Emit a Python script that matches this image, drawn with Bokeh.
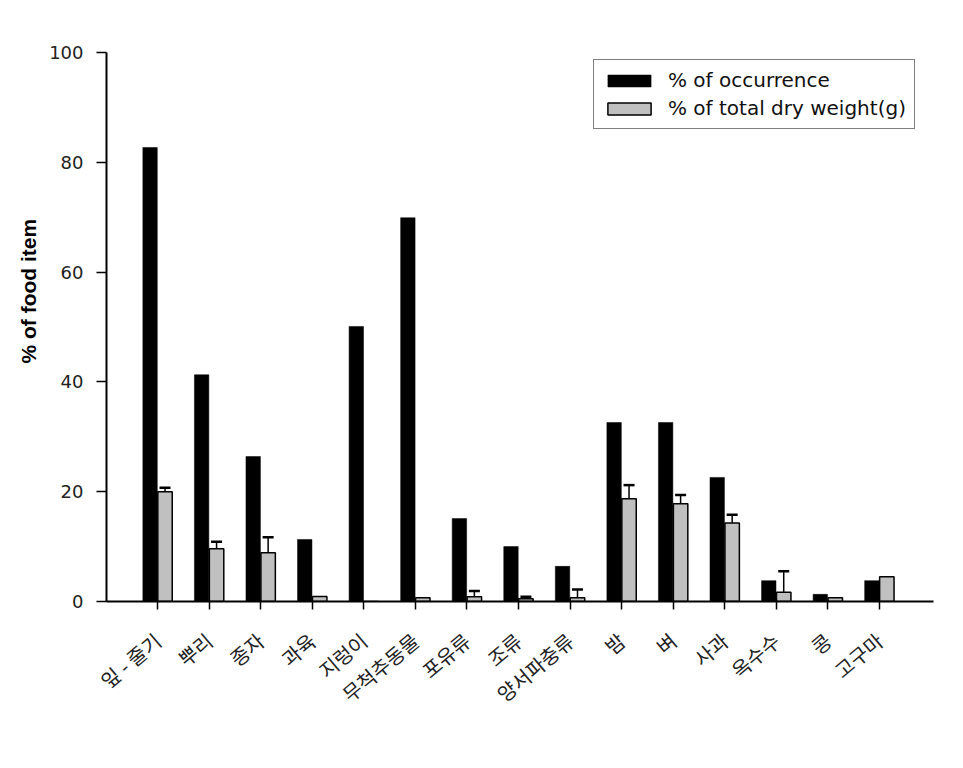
import math
from bokeh.plotting import figure
from bokeh.models import (ColumnDataSource, Range1d, FixedTicker, Whisker, TeeHead,
                          Legend, LegendItem, Title)
from bokeh.embed import file_html
from bokeh.resources import INLINE

# ---- data ----
categories = ["잎 - 줄기", "뿌리", "종자", "과육", "지렁이", "무척추동물", "포유류", "조류",
              "양서파충류", "밤", "벼", "사과", "옥수수", "콩", "고구마"]
occurrence = [82.7, 41.3, 26.4, 11.3, 50.1, 69.9, 15.1, 10.0, 6.4, 32.6, 32.6, 22.6, 3.8, 1.3, 3.8]
dry_weight = [20.0, 9.6, 8.9, 0.9, 0.0, 0.7, 0.85, 0.5, 0.7, 18.7, 17.8, 14.3, 1.7, 0.7, 4.5]
dry_weight_err = [0.7, 1.3, 2.8, None, None, None, 1.05, 0.35, 1.5, 2.5, 1.6, 1.5, 3.8, None, None]
y_ticks = [0, 20, 40, 60, 80, 100]

idx = list(range(len(categories)))
off = 0.145
bw = 0.28

src = ColumnDataSource(dict(
    x1=[i - off for i in idx], x2=[i + off for i in idx],
    occ=occurrence, dw=dry_weight))

ex = [i + off for i, e in zip(idx, dry_weight_err) if e is not None]
elo = [d for d, e in zip(dry_weight, dry_weight_err) if e is not None]
ehi = [d + e for d, e in zip(dry_weight, dry_weight_err) if e is not None]
esrc = ColumnDataSource(dict(x=ex, lo=elo, hi=ehi))

p = figure(frame_width=827, frame_height=549, min_border_left=106, min_border_right=22,
           min_border_top=52, min_border_bottom=155,
           x_range=Range1d(-0.99, 15.05), y_range=Range1d(0, 100),
           output_backend="svg", toolbar_location=None)
p.outline_line_color = None
p.xgrid.grid_line_color = None
p.ygrid.grid_line_color = None
p.background_fill_color = "white"
p.border_fill_color = "white"

r1 = p.vbar(x="x1", top="occ", width=bw, source=src, fill_color="black", line_color="black",
            line_width=0.5)
r2 = p.vbar(x="x2", top="dw", width=bw, source=src, fill_color="#c0c0c0", line_color="black",
            line_width=1.5)

w = Whisker(base="x", lower="lo", upper="hi", source=esrc, dimension="height",
            line_color="black", line_width=1.5, lower_head=None,
            upper_head=TeeHead(size=11, line_color="black", line_width=2.5))
p.add_layout(w)

# axes
p.xaxis.ticker = FixedTicker(ticks=idx)
p.xaxis.major_label_overrides = {i: c for i, c in zip(idx, categories)}
p.xaxis.major_label_orientation = 0.7
p.xaxis.major_label_text_font = "Noto Sans CJK KR"
p.xaxis.major_label_text_font_size = "20px"
p.xaxis.major_label_text_color = "#222222"
p.xaxis.major_label_standoff = 28
p.xaxis.major_tick_in = 0
p.xaxis.major_tick_out = 8
p.xaxis.minor_tick_line_color = None
p.xaxis.axis_line_width = 2
p.xaxis.major_tick_line_width = 1.5

p.yaxis.ticker = FixedTicker(ticks=y_ticks)
p.yaxis.major_label_text_font = "DejaVu Sans"
p.yaxis.major_label_text_font_size = "18px"
p.yaxis.major_label_text_color = "#222222"
p.yaxis.major_label_standoff = 13
p.yaxis.major_tick_in = 0
p.yaxis.major_tick_out = 10
p.yaxis.minor_tick_line_color = None
p.yaxis.axis_line_width = 2
p.yaxis.major_tick_line_width = 1.5

ylab = Title(text="% of  food item", align="left", offset=238, standoff=13,
             text_font="Liberation Sans", text_font_style="bold", text_font_size="21px",
             text_color="black")
p.add_layout(ylab, "left")

legend = Legend(items=[LegendItem(label="% of occurrence", renderers=[r1]),
                       LegendItem(label="% of total dry weight(g)", renderers=[r2])],
                location=(487, 472), glyph_width=54, glyph_height=15, label_height=15,
                spacing=4, padding=8, margin=0, label_standoff=12,
                label_text_font="DejaVu Sans", label_text_font_size="20px",
                label_text_color="#111111",
                border_line_color="black", border_line_width=1.5,
                background_fill_alpha=1.0)
p.add_layout(legend)

open("out.html", "w").write(file_html(p, INLINE))
